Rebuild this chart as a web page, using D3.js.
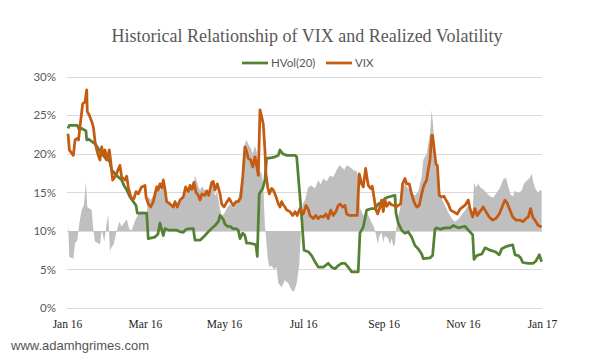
<!DOCTYPE html>
<html>
<head>
<meta charset="utf-8">
<script src="https://cdn.jsdelivr.net/npm/d3@7"></script>
<style>
  html, body { margin: 0; padding: 0; background: #ffffff; }
  svg { display: block; }
</style>
</head>
<body>
<svg id="chart" width="600" height="360"></svg>
<script>
// ---- data (days since 2016-01-01, values in %) ----
const vixDay = [0.8,1.8,4.9,6.2,7.9,8.9,10.0,12.1,13.9,15.2,15.6,17.2,19.0,20.3,21.6,22.9,24.1,25.4,26.7,28.0,29.3,30.6,32.6,33.7,35.2,37.0,40.8,42.1,44.7,46.0,47.2,48.5,49.8,51.6,53.2,54.9,57.5,60.1,60.9,62.6,64.5,66.5,69.1,70.3,71.6,73.0,74.2,75.5,76.8,79.4,81.9,83.2,85.0,87.1,89.6,91.4,93.5,94.8,96.3,97.8,99.4,101.2,102.5,104.0,106.3,107.6,109.2,111.5,112.7,114.0,115.8,117.9,119.2,121.0,123.0,125.0,126.3,128.1,130.2,132.0,133.8,135.4,137.1,138.4,139.7,141.5,143.1,144.8,146.1,147.4,148.7,150.0,151.2,152.5,153.3,154.6,155.9,157.7,158.9,160.2,161.5,162.8,164.1,165.4,166.6,167.9,169.3,171.8,173.9,175.7,177.4,179.5,182.1,184.2,185.9,187.2,189.8,191.8,193.6,195.4,197.5,199.5,201.3,203.2,205.2,207.2,209.0,210.3,212.4,214.2,215.5,218.0,221.9,223.6,225.2,227.0,228.3,230.1,232.1,234.0,235.2,236.5,238.1,239.4,241.1,242.4,243.7,245.0,246.5,248.3,250.0,251.9,253.5,255.2,257.1,258.6,260.4,261.7,263.7,265.5,267.3,269.4,271.4,273.3,275.0,277.1,278.3,279.7,281.0,281.7,283.0,284.3,285.4,286.8,288.7,290.4,292.0,293.8,295.6,297.6,300.7,302.8,304.8,306.6,309.2,310.5,312.6,314.3,316.1,318.2,320.7,322.8,325.3,328.0,330.5,333.1,335.7,337.4,339.2,341.3,343.4,345.9,349.0,351.5,353.6,355.4,357.2,358.8,360.5,363.1,365.7];
const vixVal = [22.6,20.5,19.8,21.8,22.0,21.8,23.5,26.5,26.7,28.3,25.5,25.0,24.2,23.5,21.6,20.5,19.8,19.2,20.9,19.8,20.5,19.2,20.5,19.0,16.6,17.0,18.5,17.0,16.6,17.1,15.7,14.8,14.2,14.2,15.1,14.8,15.7,15.9,14.4,13.5,13.1,13.8,15.7,15.3,16.1,15.6,16.6,15.4,13.8,13.5,13.1,13.8,13.1,14.0,14.4,15.7,15.1,15.9,15.4,16.3,15.0,14.6,14.0,14.8,14.6,15.2,14.6,16.3,16.4,15.3,16.1,14.8,13.5,13.1,13.7,14.2,13.8,13.3,13.8,13.8,14.3,17.0,20.9,20.3,19.4,19.2,18.3,19.6,18.5,17.2,25.7,24.8,23.9,20.5,17.4,15.7,14.8,15.5,15.3,14.8,14.2,13.5,13.1,13.8,13.4,13.1,12.7,12.5,12.0,12.5,12.0,12.9,12.2,13.3,12.8,12.0,11.6,12.0,11.6,11.9,11.8,12.2,11.6,12.7,12.0,12.5,13.3,13.5,13.1,13.3,12.2,12.0,12.0,12.0,17.4,16.1,15.7,18.1,15.9,15.5,15.8,14.4,12.7,12.2,13.1,14.0,12.5,14.0,13.2,13.7,13.4,13.3,13.1,13.3,13.5,16.1,16.8,16.1,16.1,14.8,13.8,13.1,13.3,14.8,15.9,16.6,17.9,19.2,22.4,22.4,20.5,18.7,18.5,14.6,14.4,14.5,14.0,13.5,12.7,12.5,12.2,12.8,13.1,13.3,14.0,12.9,11.8,12.9,12.0,12.5,13.1,12.5,11.8,11.4,11.6,12.2,13.3,14.0,13.6,12.7,11.8,11.4,11.4,11.2,11.6,11.8,12.9,11.8,11.4,10.7,10.5];

const hvDay = [0.8,1.8,7.9,9.5,11.3,13.1,14.6,15.2,16.6,19.0,21.6,23.3,25.4,28.0,30.6,32.6,34.4,37.0,39.5,42.1,43.9,46.0,48.5,51.1,53.2,54.2,61.4,62.6,67.8,70.1,71.6,74.2,75.5,78.0,84.5,87.1,89.6,91.7,94.8,97.3,98.6,102.5,106.3,108.9,111.5,114.0,116.6,117.9,120.4,121.7,123.5,125.6,127.7,130.2,132.0,133.3,135.4,137.1,138.4,141.0,145.6,146.6,148.1,150.8,152.5,153.8,157.9,160.2,162.8,164.1,166.2,169.3,173.1,175.7,177.0,180.8,182.6,185.9,188.5,191.1,193.6,197.5,201.3,203.9,206.5,209.0,211.6,214.2,216.7,219.3,224.4,225.7,228.3,230.9,234.8,237.3,239.8,242.4,245.0,247.5,252.7,253.5,255.2,257.9,260.4,262.9,265.5,268.1,270.6,273.3,274.5,279.7,281.7,283.5,284.8,287.4,291.2,295.1,297.6,301.5,306.6,309.2,312.6,313.6,315.7,319.6,322.1,326.0,329.9,333.1,335.0,338.8,343.4,345.2,347.7,349.6,351.1,355.4,359.3,361.3,363.9,365.7];
const hvVal = [23.3,23.7,23.7,23.1,23.3,23.1,23.0,21.8,21.9,21.6,21.3,20.9,20.3,19.8,19.2,19.2,17.9,17.4,17.0,16.6,15.9,15.3,14.4,13.8,13.3,12.3,12.3,9.0,9.2,9.6,11.0,9.4,10.3,10.1,10.1,9.9,9.8,10.2,10.3,10.3,8.8,8.8,9.4,9.9,10.3,10.7,11.2,12.0,11.5,10.9,10.6,10.6,10.3,10.3,10.1,9.0,9.7,9.4,8.4,8.4,8.2,6.7,14.8,15.5,16.6,19.4,19.5,19.6,19.8,20.5,20.0,19.8,19.8,19.8,19.6,11.8,7.5,7.3,6.8,6.0,5.3,5.3,5.8,5.3,5.1,5.5,5.8,5.8,5.3,4.7,4.7,9.7,10.5,12.7,12.9,12.9,13.5,13.7,14.2,14.4,14.6,12.3,11.0,10.1,9.7,9.9,9.2,8.1,7.7,7.0,6.4,6.5,6.8,10.2,10.4,10.2,10.4,10.4,10.7,10.4,10.6,10.1,9.5,6.3,6.8,7.0,7.8,7.5,7.3,6.9,7.7,8.0,8.2,6.9,6.8,6.5,5.9,5.8,5.8,6.1,6.9,6.0];

// gray area: VIX minus HVol spread (percentage points), drawn around the 10% line
const spreadDay = [0.8,1.8,4.9,6.2,7.9,9.5,11.3,13.1,14.6,15.6,19.0,20.3,21.6,24.1,25.4,26.7,27.7,28.7,30.6,31.8,33.1,34.4,35.8,38.3,40.3,42.1,43.9,46.0,48.0,49.8,52.4,54.9,57.5,60.1,61.4,62.6,64.5,66.5,69.1,71.6,74.2,75.5,76.8,79.4,81.9,83.2,85.0,87.1,89.6,91.4,93.5,94.8,97.8,98.6,101.2,102.5,104.0,106.3,109.2,111.5,112.7,114.0,115.8,117.9,119.2,121.0,123.0,125.6,128.1,130.2,132.0,133.3,135.4,137.1,138.4,139.7,141.5,143.1,144.8,146.1,147.4,148.1,150.0,151.2,152.5,153.3,154.6,155.9,157.7,159.4,161.5,162.8,165.4,167.9,170.5,173.1,174.9,177.0,179.0,180.3,181.6,183.4,185.9,188.5,191.1,193.6,195.4,197.5,200.1,202.6,205.2,207.8,209.8,211.6,213.6,215.5,218.0,220.6,223.2,224.4,225.7,228.3,230.9,233.5,236.5,238.1,239.4,240.6,242.4,243.7,245.0,247.5,248.9,250.2,251.4,252.7,253.5,255.2,256.5,258.6,260.4,262.9,265.5,268.1,270.6,273.3,274.5,277.1,279.7,281.0,282.2,283.5,284.8,286.8,288.7,291.2,293.8,296.4,298.9,301.5,304.1,306.6,309.2,312.6,313.6,315.1,316.9,318.6,320.7,323.3,325.9,328.4,331.0,333.6,336.2,338.2,340.0,341.8,343.8,345.1,347.7,350.3,352.1,354.2,356.7,358.0,359.3,360.6,363.1,364.4,365.7];
const spreadVal = [1.2,-3.4,-3.6,-1.6,-1.2,1.0,2.7,3.4,6.4,3.1,2.7,0.1,-1.4,-1.6,-1.8,0.1,-0.5,-1.4,1.0,2.1,-2.6,-2.1,-1.8,0,1.2,0.6,1.0,1.5,0.2,0.1,1.3,2.2,2.6,2.4,2.1,4.5,4.0,4.6,6.0,5.1,7.0,5.2,3.6,3.4,3.0,3.7,3.0,4.1,4.6,5.6,4.9,5.6,6.0,7.2,5.8,5.2,5.8,5.2,4.7,6.0,5.9,4.6,5.0,2.8,2.0,2.2,2.9,3.5,3.0,3.8,4.2,5.3,7.6,11.3,11.8,11.2,10.8,10.0,11.0,10.3,9.0,7.9,7.4,6.0,0.6,-0.8,-3.4,-4.7,-4.5,-5.0,-4.7,-6.8,-7.3,-6.4,-6.8,-7.7,-7.9,-6.8,-4.3,0.1,3.5,4.0,5.7,5.9,5.5,6.6,6.0,6.8,6.4,7.2,7.0,7.9,8.5,8.3,7.9,8.5,8.3,7.9,7.7,7.0,3.0,2.0,2.5,1.5,0.5,-0.5,-1.7,-0.7,-0.2,-1.5,-0.6,-1.0,-1.8,-1.0,-2.0,-1.7,0.1,1.9,2.7,5.3,6.1,5.5,5.0,4.6,5.1,7.0,9.2,10.0,12.6,15.7,13.5,10.0,8.3,4.4,4.2,3.3,2.4,1.6,1.2,1.5,2.1,2.6,3.3,2.5,6.3,5.6,6.1,5.6,5.4,4.9,4.5,4.3,4.9,5.6,6.7,6.9,5.8,4.7,4.5,5.2,4.9,5.2,6.1,6.5,6.9,7.4,6.3,5.6,4.9,5.3,5.2];

const yTicks = [0, 5, 10, 15, 20, 25, 30];
const seriesNames = ["HVol(20)", "VIX"];
const titleText = "Historical Relationship of VIX and Realized Volatility";
const watermark = "www.adamhgrimes.com";

// ---- chart ----
const svg = d3.select("#chart");
svg.append("rect").attr("width", 600).attr("height", 360).attr("fill", "#ffffff");

const t0 = new Date(2016, 0, 1), t1 = new Date(2017, 0, 1);
const toDate = d => new Date(t0.getTime() + d * 864e5);
const x = d3.scaleTime().domain([t0, t1]).range([67, 542]);
const y = d3.scaleLinear().domain([0, 30]).range([308, 76.7]);

const vix = vixDay.map((d, i) => ({ t: toDate(d), v: vixVal[i] }));
const hv = hvDay.map((d, i) => ({ t: toDate(d), v: hvVal[i] }));
const sp = spreadDay.map((d, i) => ({ t: toDate(d), v: spreadVal[i] }));

// gridlines
svg.append("g").selectAll("line").data(yTicks).join("line")
  .attr("x1", 67).attr("x2", 542)
  .attr("y1", d => Math.round(y(d)) + 0.5).attr("y2", d => Math.round(y(d)) + 0.5)
  .attr("stroke", "#d9d9d9").attr("stroke-width", 1);

// y axis labels
const yAxis = d3.axisLeft(y).tickValues(yTicks).tickFormat(d => d + "%").tickSize(0).tickPadding(0);
const gy = svg.append("g").attr("transform", "translate(56,0)").call(yAxis);
gy.select(".domain").remove();
gy.selectAll("text").attr("font-family", "Lato, 'Noto Sans', sans-serif").attr("font-size", 11.5).attr("fill", "#595959");

// x axis labels
const xAxis = d3.axisBottom(x).ticks(d3.timeMonth.every(2)).tickFormat(d3.timeFormat("%b %y")).tickSize(0).tickPadding(0);
const gx = svg.append("g").attr("transform", "translate(0,320)").call(xAxis);
gx.select(".domain").remove();
gx.selectAll("text").attr("font-family", "'Liberation Serif', 'DejaVu Serif', serif").attr("font-size", 11.5).attr("fill", "#222");

// gray spread area
const area = d3.area().x(d => x(d.t)).y0(y(10)).y1(d => y(10 + d.v));
svg.append("path").datum(sp).attr("d", area).attr("fill", "#bfbfbf");

const line = d3.line().x(d => x(d.t)).y(d => y(d.v));
svg.append("path").datum(hv).attr("d", line).attr("fill", "none")
  .attr("stroke", "#548235").attr("stroke-width", 2.75).attr("stroke-linejoin", "round");
svg.append("path").datum(vix).attr("d", line).attr("fill", "none")
  .attr("stroke", "#c55a11").attr("stroke-width", 2.75).attr("stroke-linejoin", "round");

// title
svg.append("text").attr("x", 307).attr("y", 42).attr("text-anchor", "middle")
  .attr("font-family", "'Liberation Serif', 'DejaVu Serif', serif").attr("font-size", 18)
  .attr("fill", "#595959").text(titleText);

// legend
const legend = [
  { name: seriesNames[0], color: "#548235", x0: 242 },
  { name: seriesNames[1], color: "#c55a11", x0: 326 }
];
const lg = svg.append("g");
legend.forEach(l => {
  lg.append("line").attr("x1", l.x0).attr("x2", l.x0 + 26).attr("y1", 63).attr("y2", 63)
    .attr("stroke", l.color).attr("stroke-width", 2.75);
  lg.append("text").attr("x", l.x0 + 29).attr("y", 67)
    .attr("font-family", "Lato, 'Noto Sans', sans-serif").attr("font-size", 11.5)
    .attr("fill", "#595959").text(l.name);
});

// watermark
svg.append("text").attr("x", 11).attr("y", 350)
  .attr("font-family", "'Liberation Sans', Arial, sans-serif").attr("font-size", 13)
  .attr("fill", "#555").text(watermark);
</script>
</body>
</html>
